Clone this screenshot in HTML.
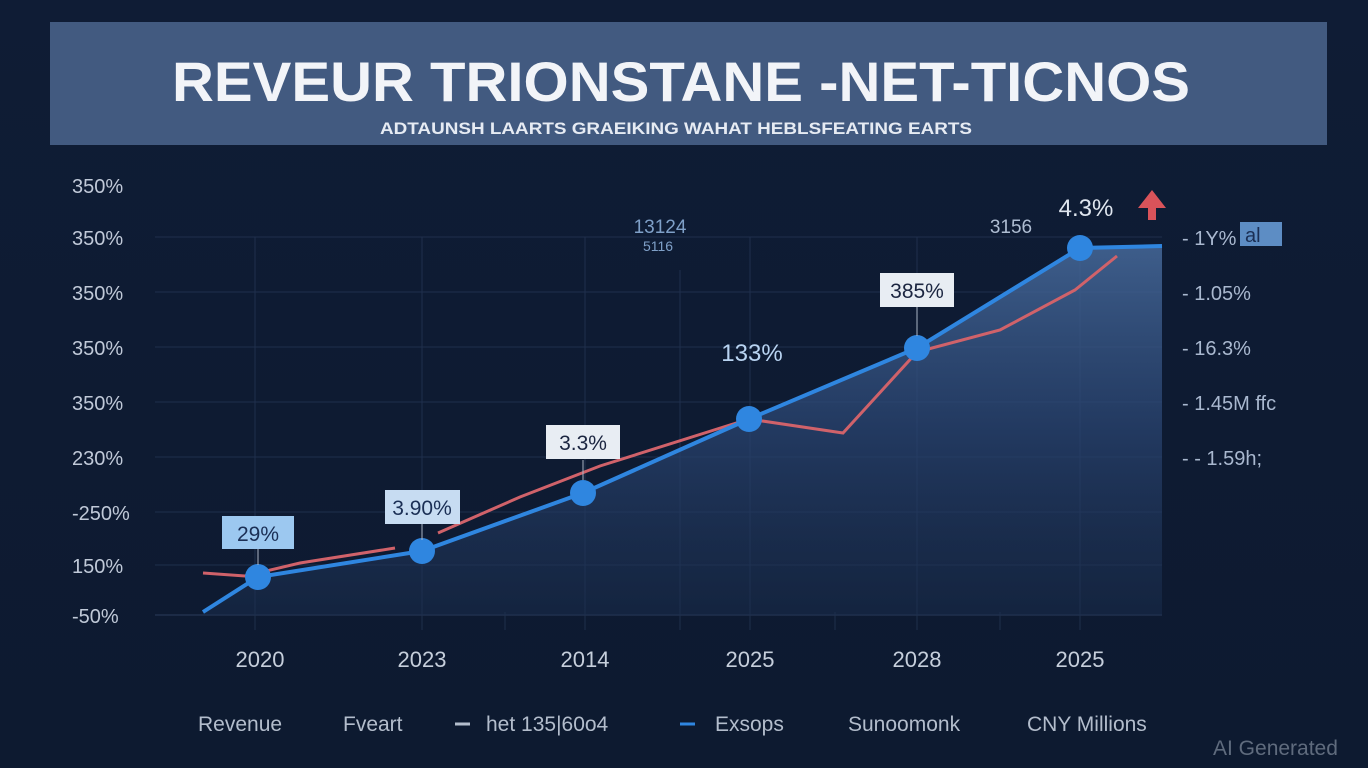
<!DOCTYPE html>
<html><head><meta charset="utf-8"><style>
html,body{margin:0;padding:0;background:#0e1b33;}
svg{display:block;font-family:"Liberation Sans",sans-serif;}
</style></head><body>
<svg width="1368" height="768" viewBox="0 0 1368 768" xmlns="http://www.w3.org/2000/svg">
<defs>
<linearGradient id="bg" x1="0" y1="0" x2="0" y2="1"><stop offset="0" stop-color="#0f1c35"/><stop offset="1" stop-color="#0d1a30"/></linearGradient>
<linearGradient id="ar" x1="0" y1="0" x2="0" y2="1"><stop offset="0" stop-color="#46699a" stop-opacity="1"/><stop offset="0.5" stop-color="#2a4572" stop-opacity="0.85"/><stop offset="1" stop-color="#1a2d4d" stop-opacity="0.6"/></linearGradient>
</defs>
<rect width="1368" height="768" fill="url(#bg)"/>
<rect x="50" y="22" width="1277" height="123" fill="#425a80"/>
<text x="172" y="101" textLength="1018" lengthAdjust="spacingAndGlyphs" font-size="56" font-weight="bold" fill="#f2f4f8">REVEUR TRIONSTANE -NET-TICNOS</text>
<text x="380" y="134" textLength="592" lengthAdjust="spacingAndGlyphs" font-size="17" font-weight="bold" fill="#e6ebf3">ADTAUNSH LAARTS  GRAEIKING WAHAT HEBLSFEATING EARTS</text>
<g stroke="#1f2f4c" stroke-width="1">
<line x1="155" y1="237" x2="1162" y2="237"/><line x1="155" y1="292" x2="1162" y2="292"/><line x1="155" y1="347" x2="1162" y2="347"/><line x1="155" y1="402" x2="1162" y2="402"/><line x1="155" y1="457" x2="1162" y2="457"/><line x1="155" y1="512" x2="1162" y2="512"/><line x1="155" y1="565" x2="1162" y2="565"/><line x1="155" y1="615" x2="1162" y2="615" stroke="#2a3b5a"/>
<line x1="255" y1="237" x2="255" y2="630"/><line x1="422" y1="237" x2="422" y2="630"/><line x1="585" y1="237" x2="585" y2="630"/><line x1="680" y1="270" x2="680" y2="630"/><line x1="750" y1="237" x2="750" y2="630"/><line x1="917" y1="237" x2="917" y2="630"/><line x1="1080" y1="237" x2="1080" y2="630"/>
<line x1="505" y1="612" x2="505" y2="630"/><line x1="835" y1="612" x2="835" y2="630"/><line x1="1000" y1="612" x2="1000" y2="630"/>
</g>
<path d="M203,612 L258,577 L422,551 L583,493 L749,419 L917,348 L1080,248 L1162,246 L1162,615 L203,615 Z" fill="url(#ar)" opacity="0.85"/>
<polyline points="203,573 245,576 300,563 395,548" fill="none" stroke="#d0626a" stroke-width="3"/>
<polyline points="438,533 520,497 600,466 749,419 843,433 917,352 1000,330 1075,290 1117,256" fill="none" stroke="#d0626a" stroke-width="3"/>
<polyline points="203,612 258,577 422,551 583,493 749,419 917,348 1080,248 1162,246" fill="none" stroke="#2f86e0" stroke-width="4"/>
<g fill="#2f86e0">
<circle cx="258" cy="577" r="13"/><circle cx="422" cy="551" r="13"/><circle cx="583" cy="493" r="13"/><circle cx="749" cy="419" r="13"/><circle cx="917" cy="348" r="13"/><circle cx="1080" cy="248" r="13"/>
</g>
<g stroke="#aab4c4" stroke-width="1">
<line x1="258" y1="548" x2="258" y2="565"/><line x1="422" y1="524" x2="422" y2="540"/><line x1="583" y1="460" x2="583" y2="480"/><line x1="917" y1="307" x2="917" y2="336"/>
</g>
<rect x="222" y="516" width="72" height="33" fill="#9cc8f0"/><text x="258" y="541" text-anchor="middle" font-size="21" fill="#1b2f55">29%</text>
<rect x="385" y="490" width="75" height="34" fill="#c7dcf2"/><text x="422" y="515" text-anchor="middle" font-size="21" fill="#1b2f55">3.90%</text>
<rect x="546" y="425" width="74" height="34" fill="#e8edf3"/><text x="583" y="450" text-anchor="middle" font-size="21" fill="#1b2540">3.3%</text>
<rect x="880" y="273" width="74" height="34" fill="#e8edf3"/><text x="917" y="298" text-anchor="middle" font-size="21" fill="#1b2540">385%</text>
<text x="752" y="361" text-anchor="middle" font-size="24" fill="#b9d4f2">133%</text>
<text x="1086" y="216" text-anchor="middle" font-size="24" fill="#dfe6ef">4.3%</text>
<polygon points="1152,190 1138,208 1148,208 1148,220 1156,220 1156,208 1166,208" fill="#d9535a"/>
<text x="660" y="233" text-anchor="middle" font-size="19" fill="#7fa0c8">13124</text>
<text x="658" y="251" text-anchor="middle" font-size="14" fill="#7fa0c8">5116</text>
<text x="1011" y="233" text-anchor="middle" font-size="19" fill="#aebdd2">3156</text>
<g font-size="20" fill="#c0c9d8">
<text x="72" y="193">350%</text><text x="72" y="245">350%</text><text x="72" y="300">350%</text><text x="72" y="355">350%</text><text x="72" y="410">350%</text><text x="72" y="465">230%</text><text x="72" y="520">-250%</text><text x="72" y="573">150%</text><text x="72" y="623">-50%</text>
</g>
<g font-size="20" fill="#a9b8cf">
<text x="1182" y="245">- 1Y%</text><rect x="1240" y="222" width="42" height="24" fill="#5d8dc4"/><text x="1245" y="242" fill="#1b2f55">al</text>
<text x="1182" y="300">- 1.05%</text><text x="1182" y="355">- 16.3%</text><text x="1182" y="410">- 1.45M ffc</text><text x="1182" y="465">- - 1.59h;</text>
</g>
<g font-size="22" fill="#c6cfdc" text-anchor="middle">
<text x="260" y="667">2020</text><text x="422" y="667">2023</text><text x="585" y="667">2014</text><text x="750" y="667">2025</text><text x="917" y="667">2028</text><text x="1080" y="667">2025</text>
</g>
<g font-size="21" fill="#b3bdcc">
<text x="198" y="731">Revenue</text><text x="343" y="731">Fveart</text>
<line x1="455" y1="724" x2="470" y2="724" stroke="#b3bdcc" stroke-width="3"/><text x="486" y="731">het 135|60o4</text>
<line x1="680" y1="724" x2="695" y2="724" stroke="#2f86e0" stroke-width="3"/><text x="715" y="731">Exsops</text>
<text x="848" y="731">Sunoomonk</text><text x="1027" y="731">CNY Millions</text>
</g>
<text x="1213" y="755" font-size="21" fill="#5f6b7d">AI Generated</text>
</svg>
</body></html>
